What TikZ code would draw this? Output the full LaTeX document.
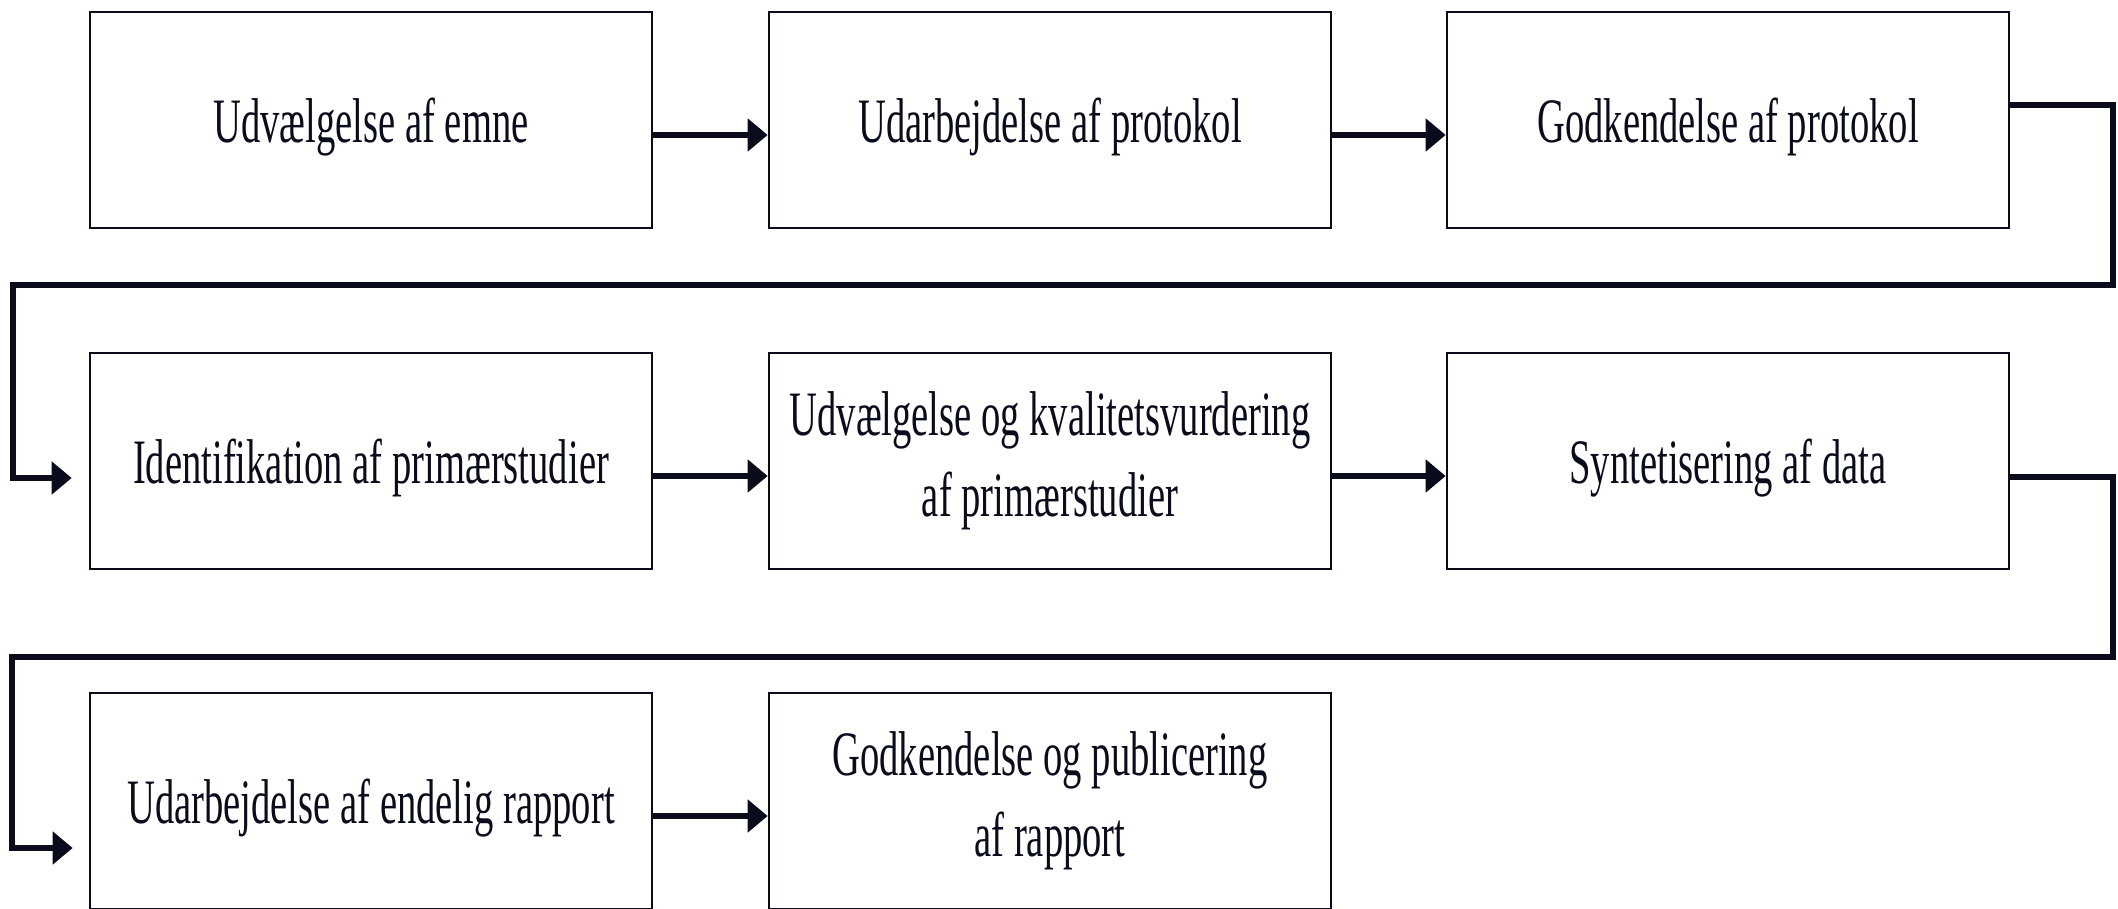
\documentclass[tikz,border=0pt]{standalone}
\usepackage{fontspec}
\setmainfont[FakeStretch=0.61]{Liberation Serif}
\usetikzlibrary{arrows.meta}
\definecolor{ink}{RGB}{10,12,28}
\begin{document}
\begin{tikzpicture}[>={Triangle[length=2mm,width=3.2mm]}]
        \tikzstyle{stage}=[rectangle,draw=ink,line width=0.75pt,minimum width=5.62cm,minimum height=2.16cm,inner sep=0pt,align=center,text=ink,font=\fontsize{18}{23}\selectfont,execute at begin node={\rule{0pt}{16.5pt}}]
        \tikzstyle{edge}=[draw=ink,line width=1.5pt,->]
       \useasboundingbox (0,0) rectangle (21.18,9.08);
       \begin{scope}
         \node [stage] (s1) at (3.71,7.88) {Udvælgelse af emne};
         \node [stage] (s2) at (10.50,7.88) {Udarbejdelse af protokol};
         \node [stage] (s3) at (17.28,7.88) {Godkendelse af protokol};
         \node [stage] (s4) at (3.71,4.47) {Identifikation af primærstudier};
         \node [stage] (s5) at (10.50,4.47) {Udvælgelse og kvalitetsvurdering\\af primærstudier};
         \node [stage] (s6) at (17.28,4.47) {Syntetisering af data};
         \node [stage] (s7) at (3.71,1.07) {Udarbejdelse af endelig rapport};
         \node [stage] (s8) at (10.50,1.07) {Godkendelse og publicering\\af rapport};
         \coordinate (c1) at (21.13,6.23);
         \coordinate (c2) at (0.13,6.23);
         \coordinate (c3) at (21.13,2.51);
         \coordinate (c4) at (0.12,2.51);
         \draw[edge] ([yshift=-1.5mm]s1.east) -- ([yshift=-1.5mm]s2.west);
         \draw[edge] ([yshift=-1.5mm]s2.east) -- ([yshift=-1.5mm]s3.west);
         \draw[edge] ([yshift=-1.5mm]s4.east) -- ([yshift=-1.5mm]s5.west);
         \draw[edge] ([yshift=-1.5mm]s5.east) -- ([yshift=-1.5mm]s6.west);
         \draw[edge] ([yshift=-1.5mm]s7.east) -- ([yshift=-1.5mm]s8.west);
         \draw[edge,shorten >=1.7mm] ([yshift=1.5mm]s3.east) -| (c1) -- (c2) |- ([yshift=-1.7mm]s4.west);
         \draw[edge,shorten >=1.6mm] ([yshift=-1.6mm]s6.east) -| (c3) -- (c4) |- ([yshift=-4.7mm]s7.west);
        \end{scope}
      \end{tikzpicture}
\end{document}
